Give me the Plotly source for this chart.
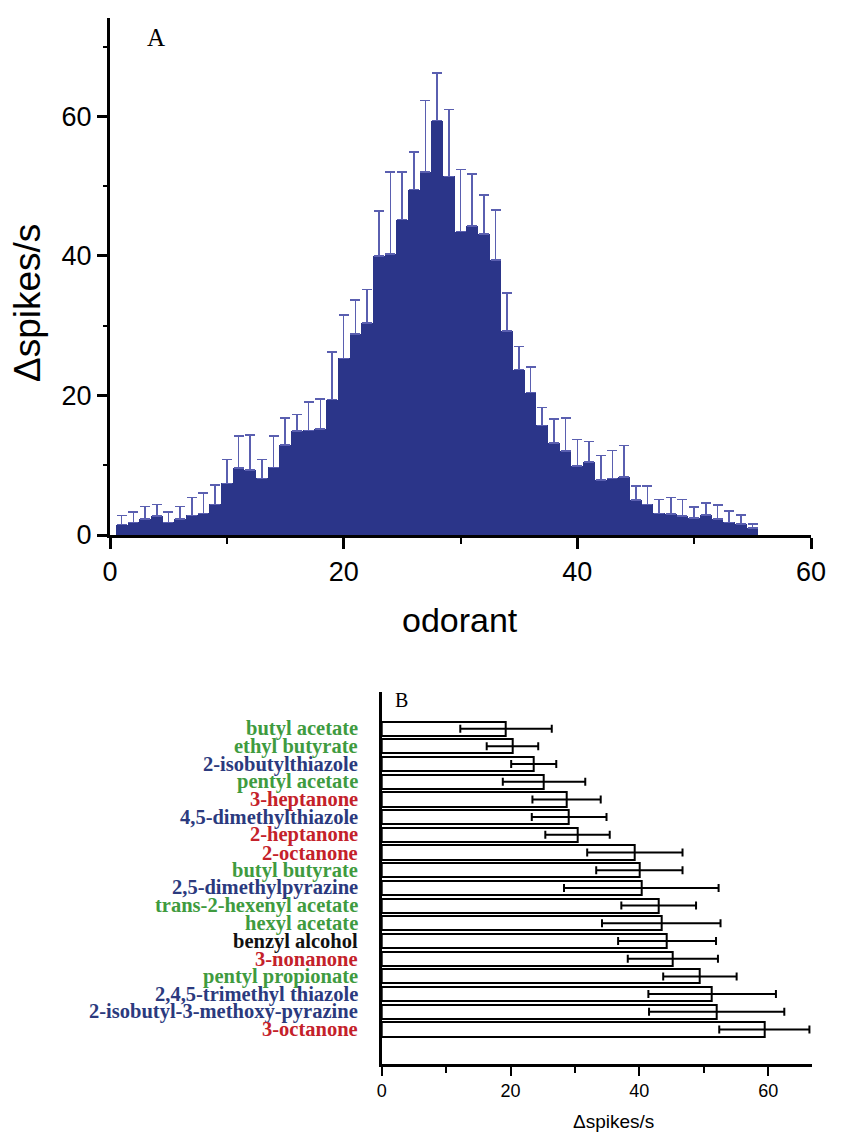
import plotly.graph_objects as go

# ---------------- Panel A data ----------------
odorant = list(range(1, 56))
resp_a = [1.5, 1.8, 2.3, 2.7, 1.8, 2.3, 2.8, 3.1, 4.4, 7.4,
          9.6, 9.3, 8.1, 9.7, 12.9, 14.9, 15.0, 15.2, 19.4, 25.3,
          28.8, 30.4, 40.0, 40.3, 45.2, 49.5, 52.0, 59.4, 51.4, 43.5,
          44.3, 43.1, 39.4, 29.2, 23.7, 20.4, 15.7, 13.2, 12.0, 9.9,
          10.5, 7.9, 8.1, 8.3, 5.0, 4.4, 3.1, 3.0, 2.7, 2.4,
          2.9, 2.3, 1.8, 1.6, 1.0]
err_a = [1.3, 1.5, 1.8, 1.7, 1.5, 1.8, 2.6, 2.9, 2.8, 3.4,
         4.6, 5.0, 2.7, 4.5, 3.9, 2.4, 4.1, 4.3, 6.8, 6.2,
         4.9, 4.8, 6.4, 11.7, 6.8, 5.4, 10.3, 6.8, 9.6, 8.9,
         7.4, 5.6, 7.2, 5.5, 3.3, 3.7, 2.6, 3.4, 4.8, 3.8,
         2.9, 3.5, 4.0, 4.5, 2.0, 2.6, 2.0, 2.4, 2.4, 1.6,
         1.7, 2.0, 1.6, 1.3, 0.6]

# ---------------- Panel B data ----------------
names_b = ["butyl acetate", "ethyl butyrate", "2-isobutylthiazole", "pentyl acetate",
           "3-heptanone", "4,5-dimethylthiazole", "2-heptanone", "2-octanone",
           "butyl butyrate", "2,5-dimethylpyrazine", "trans-2-hexenyl acetate",
           "hexyl acetate", "benzyl alcohol", "3-nonanone", "pentyl propionate",
           "2,4,5-trimethyl thiazole", "2-isobutyl-3-methoxy-pyrazine", "3-octanone"]
resp_b = [19.3, 20.3, 23.6, 25.2, 28.7, 29.1, 30.4, 39.3, 40.0, 40.3,
          43.0, 43.4, 44.3, 45.2, 49.4, 51.3, 52.0, 59.4]
err_b = [7.1, 4.0, 3.5, 6.4, 5.3, 5.8, 5.0, 7.4, 6.7, 12.0,
         5.8, 9.2, 7.6, 7.0, 5.7, 9.9, 10.5, 7.0]
group_b = ["ester", "ester", "thia", "ester", "ketone", "thia", "ketone", "ketone",
           "ester", "thia", "ester", "ester", "alcohol", "ketone", "ester",
           "thia", "thia", "ketone"]
group_color = {"ester": "#3f9b3f", "thia": "#2b3a7e", "ketone": "#c4212a", "alcohol": "#111111"}

# page body has an 8px margin; figure sized to fit the 843x1134 window
OFF = 8
W, H = 843 - OFF, 1134 - OFF


def fx(px):
    return (px - OFF) / W


def fy(py):
    return 1 - (py - OFF) / H


fig = go.Figure()

fig.add_trace(go.Bar(
    x=odorant, y=resp_a, xaxis="x", yaxis="y",
    width=1.0,
    marker=dict(color="#2b3589", line=dict(width=0)),
    error_y=dict(type="data", symmetric=False, array=err_a,
                 arrayminus=[0] * len(err_a),
                 color="#5a5fb0", thickness=1.6, width=5),
    showlegend=False,
))

fig.add_trace(go.Bar(
    x=resp_b, y=names_b, orientation="h", xaxis="x2", yaxis="y2",
    marker=dict(color="white", line=dict(color="black", width=2)),
    width=0.8,
    error_x=dict(type="data", array=err_b, color="black", thickness=2, width=4),
    showlegend=False,
))

axis_font = "Liberation Sans, Arial, sans-serif"
serif = "Liberation Serif, Times New Roman, serif"

fig.update_layout(
    width=W, height=H,
    margin=dict(l=0, r=0, t=0, b=0),
    paper_bgcolor="white", plot_bgcolor="white",
    bargap=0,
    xaxis=dict(domain=[fx(110), fx(811)], anchor="y", range=[0, 60],
               showgrid=False, zeroline=False, showline=True, linecolor="black", linewidth=3,
               ticks="outside", tickvals=[0, 20, 40, 60], ticklen=11, tickwidth=3, tickcolor="black",
               minor=dict(tickvals=[10, 30, 50], ticks="outside", ticklen=6, tickwidth=2, tickcolor="black"),
               tickfont=dict(family=axis_font, size=27, color="black"), automargin=False),
    yaxis=dict(domain=[fy(535), fy(18)], anchor="x", range=[0, 74.1],
               showgrid=False, zeroline=False, showline=True, linecolor="black", linewidth=3,
               ticks="outside", tickvals=[0, 20, 40, 60], ticklen=10, tickwidth=3, tickcolor="black",
               minor=dict(tickvals=[10, 30, 50, 70], ticks="outside", ticklen=4, tickwidth=2, tickcolor="black"),
               tickfont=dict(family=axis_font, size=27, color="black"), automargin=False),
    xaxis2=dict(domain=[fx(381.7), fx(812)], anchor="y2", range=[0, 66.8],
                showgrid=False, zeroline=False, showline=True, linecolor="black", linewidth=2.5,
                ticks="outside", tickvals=[0, 20, 40, 60], ticklen=9, tickwidth=2, tickcolor="black",
                minor=dict(tickvals=[10, 30, 50], ticks="outside", ticklen=6, tickwidth=2, tickcolor="black"),
                tickfont=dict(family=axis_font, size=18, color="black"), automargin=False),
    yaxis2=dict(domain=[fy(1064), fy(692)], anchor="x2", type="category",
                categoryorder="array", categoryarray=names_b, range=[18.95, -2.07],
                showgrid=False, zeroline=False, showline=True, linecolor="black", linewidth=2.5,
                ticks="", showticklabels=False, automargin=False),
)

ann = []
# axis titles
ann.append(dict(text="odorant", xref="paper", yref="paper", x=fx(460), y=fy(620),
                showarrow=False, font=dict(family=axis_font, size=34, color="black"),
                xanchor="center", yanchor="middle"))
ann.append(dict(text="Δspikes/s", xref="paper", yref="paper", x=fx(27), y=fy(303),
                showarrow=False, textangle=-90, font=dict(family=axis_font, size=37, color="black"),
                xanchor="center", yanchor="middle"))
ann.append(dict(text="Δspikes/s", xref="paper", yref="paper", x=fx(613), y=fy(1121),
                showarrow=False, font=dict(family=axis_font, size=19, color="black"),
                xanchor="center", yanchor="middle"))
# panel letters
ann.append(dict(text="A", xref="paper", yref="paper", x=fx(156), y=fy(37),
                showarrow=False, font=dict(family=serif, size=25, color="black"),
                xanchor="center", yanchor="middle"))
ann.append(dict(text="B", xref="paper", yref="paper", x=fx(401), y=fy(700),
                showarrow=False, font=dict(family=serif, size=20, color="black"),
                xanchor="center", yanchor="middle"))
# coloured odorant labels
for i, (nm, g) in enumerate(zip(names_b, group_b)):
    ann.append(dict(text="<b>%s</b>" % nm, xref="paper", yref="y2", x=fx(360), y=i,
                    showarrow=False, xanchor="right", yanchor="middle",
                    font=dict(family=serif, size=20.5, color=group_color[g])))
fig.update_layout(annotations=ann)

fig.write_html("out.html")
